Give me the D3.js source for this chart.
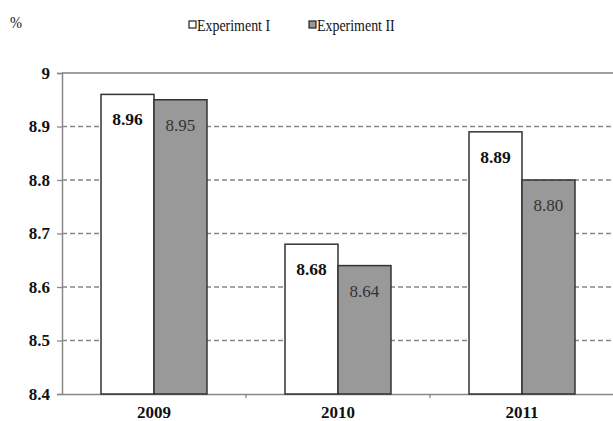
<!DOCTYPE html>
<html><head><meta charset="utf-8">
<script src="https://cdn.jsdelivr.net/npm/d3@7"></script>
<style>body{margin:0;background:#fff}svg{display:block}</style>
</head><body><svg id="c" width="613" height="421"></svg>
<script>
const categories = ["2009", "2010", "2011"];
const seriesNames = ["Experiment I", "Experiment II"];
const exp1 = [8.96, 8.68, 8.89];
const exp2 = [8.95, 8.64, 8.80];
const yTicks = [8.4, 8.5, 8.6, 8.7, 8.8, 8.9, 9];

const FONT = "Liberation Serif";
const svg = d3.select("#c");
const m = {left: 62, right: 614, top: 73, bottom: 394};
const x = d3.scaleBand().domain(categories).range([m.left, m.right]).paddingInner(0.424).paddingOuter(0.212);
const xs = d3.scaleBand().domain(seriesNames).range([0, x.bandwidth()]);
const y = d3.scaleLinear().domain([8.4, 9]).range([m.bottom, m.top]);
const fills = ["#ffffff", "#999999"];

// gridlines
yTicks.filter(t => t > 8.4).forEach(t => {
  svg.append("line").attr("x1", m.left).attr("x2", 613).attr("y1", y(t)).attr("y2", y(t))
    .attr("stroke", t === 9 ? "#a0a0a0" : "#888").attr("stroke-width", t === 9 ? 2 : 1.3)
    .attr("stroke-dasharray", t === 9 ? null : "5,3");
});

// y axis
const yAxis = svg.append("g").attr("transform", `translate(${m.left},0)`)
  .call(d3.axisLeft(y).tickValues(yTicks).tickFormat(d => d === 9 ? "9" : d3.format(".1f")(d)).tickSize(5).tickPadding(7));
yAxis.attr("font-family", FONT).attr("font-size", 17);
yAxis.select(".domain").attr("stroke", "#888").attr("stroke-width", 1.5);
yAxis.selectAll(".tick line").attr("stroke", "#888").attr("stroke-width", 1.3);
yAxis.selectAll("text").style("font-family", FONT).attr("font-weight", "bold").attr("fill", "#111");

// x axis
const xAxis = svg.append("g").attr("transform", `translate(0,${m.bottom})`)
  .call(d3.axisBottom(x).tickSize(0).tickPadding(12));
xAxis.attr("font-family", FONT).attr("font-size", 17);
xAxis.select(".domain").attr("stroke", "#888").attr("stroke-width", 1.5);
xAxis.selectAll("text").style("font-family", FONT).attr("font-weight", "bold").attr("fill", "#111");
categories.slice(1).forEach(c => {
  const bx = x(c) - x.step() * x.paddingInner() / 2;
  svg.append("line").attr("x1", bx).attr("x2", bx).attr("y1", m.bottom).attr("y2", m.bottom + 4).attr("stroke", "#888").attr("stroke-width", 1.3);
});

// bars
const data = categories.map((c, i) => ({c, vals: [exp1[i], exp2[i]]}));
data.forEach(d => {
  d.vals.forEach((v, k) => {
    const bx = x(d.c) + xs(seriesNames[k]);
    svg.append("rect").attr("x", bx).attr("y", y(v)).attr("width", xs.bandwidth()).attr("height", y(8.4) - y(v))
      .attr("fill", fills[k]).attr("stroke", "#333").attr("stroke-width", 1.5);
    svg.append("text").attr("x", bx + xs.bandwidth() / 2).attr("y", y(v) + 31)
      .style("font-family", FONT)
      .attr("text-anchor", "middle").attr("font-size", k === 0 ? 17.5 : 17)
      .attr("font-weight", k === 0 ? "bold" : "normal").attr("fill", k === 0 ? "#111" : "#333")
      .text(d3.format(".2f")(v));
  });
});

// legend
const legX = [189, 309];
seriesNames.forEach((s, k) => {
  svg.append("rect").attr("x", legX[k]).attr("y", 21).attr("width", 7).attr("height", 7)
    .attr("fill", fills[k]).attr("stroke", "#222").attr("stroke-width", 1.2);
  svg.append("text").attr("transform", `translate(${legX[k] + 8},31) scale(0.82,1)`)
    .style("font-family", FONT).attr("font-size", 17).attr("fill", "#111").text(s);
});
svg.append("text").attr("transform", "translate(10,28) scale(0.85,1)").style("font-family", FONT)
  .attr("font-size", 17).attr("fill", "#111").text("%");
</script></body></html>
